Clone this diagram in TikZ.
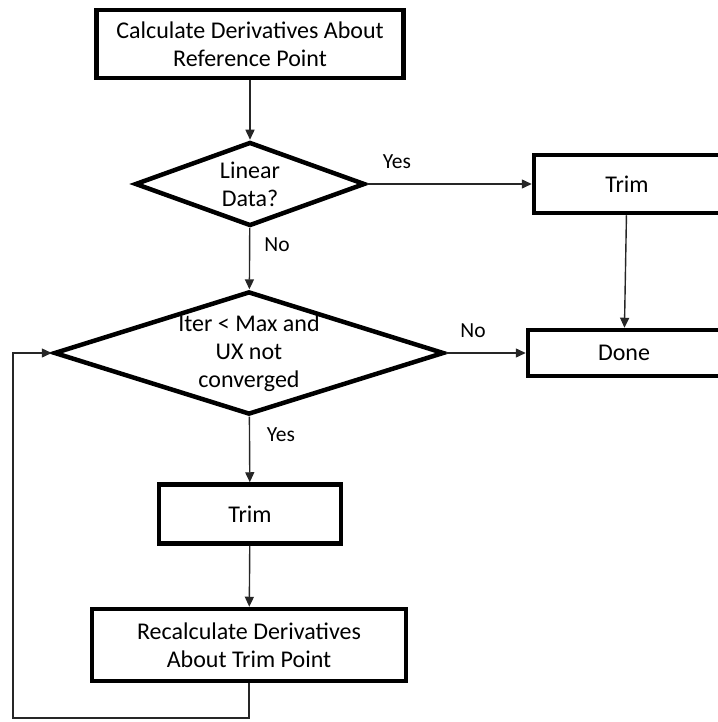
\documentclass[tikz,border=0pt]{standalone}
\usepackage{fontspec}
\setmainfont{Carlito}
\usetikzlibrary{shapes.geometric,arrows.meta}

\begin{document}
\begin{tikzpicture}[x=1pt,y=1pt,
        block/.style={draw,line width=4.5pt,align=center,inner sep=0pt,
            font=\fontsize{24}{28}\selectfont},
        decision/.style={draw,diamond,line width=4.5pt,align=center,inner sep=0pt,
            font=\fontsize{24}{28}\selectfont},
        arr/.style={draw=black!85,line width=1.4pt,-{Triangle[length=10pt,width=9pt]}},
        lbl/.style={font=\fontsize{21.5}{24}\selectfont}]
    \useasboundingbox (0,0) rectangle (717,-722);
    % boxes and decisions
    \node[block,minimum width=307pt,minimum height=68pt] (calc) at (250,-44) {Calculate Derivatives About\\Reference Point};
    \node[decision,aspect=2.8,minimum width=230pt,minimum height=84pt] (lin) at (250,-184) {Linear\\Data?};
    \node[block,minimum width=186pt,minimum height=58pt] (trimA) at (627,-184) {Trim};
    \node[decision,aspect=3.05,minimum width=390pt,minimum height=120pt] (iter) at (249,-353) {Iter < Max and\\UX not\\converged};
    \node[block,minimum width=192pt,minimum height=46pt] (done) at (624,-353) {Done};
    \node[block,minimum width=182pt,minimum height=59pt] (trimB) at (250,-514) {Trim};
    \node[block,minimum width=314pt,minimum height=72pt] (recalc) at (249,-645) {Recalculate Derivatives\\About Trim Point};
    \coordinate (loop) at (13,-718);
    % connectors
    \draw[arr] (calc) -- (lin);
    \draw[arr] (lin) -- (trimA);
    \draw[arr] (lin) -- (iter);
    \draw[arr] (trimA) -- (done);
    \draw[arr] (iter) -- (done);
    \draw[arr] (iter) -- (trimB);
    \draw[arr] (trimB) -- (recalc);
    \draw[arr] (recalc.south) |- (loop) |- (iter.west);
    % labels
    \node[lbl] (yesA) at (397,-162) {Yes};
    \node[lbl] (noA) at (277,-245) {No};
    \node[lbl] (noB) at (473,-331) {No};
    \node[lbl] (yesB) at (281,-435) {Yes};
\end{tikzpicture}
\end{document}
